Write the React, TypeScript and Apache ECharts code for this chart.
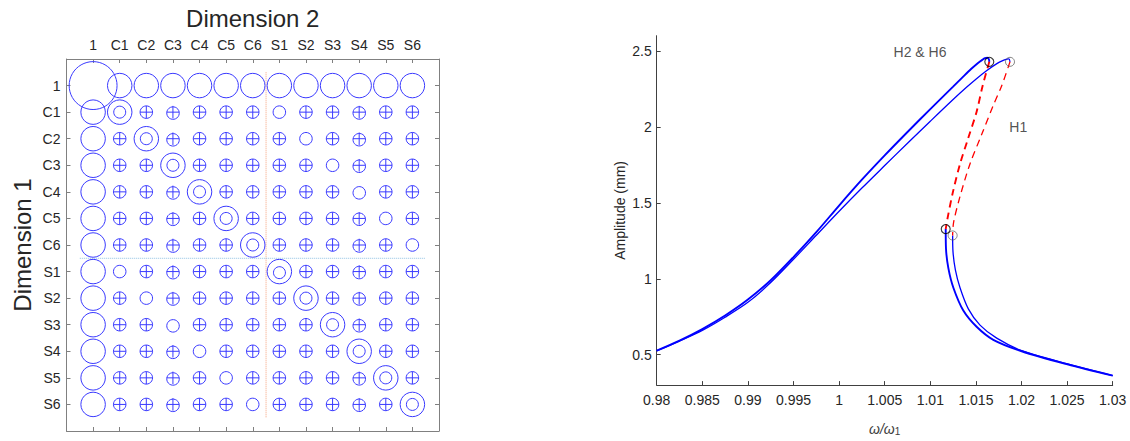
import React, { useEffect, useRef } from 'react';
import * as echarts from 'echarts';

// ---------- Left panel: matrix of circles ----------
const dimLabels = ['1', 'C1', 'C2', 'C3', 'C4', 'C5', 'C6', 'S1', 'S2', 'S3', 'S4', 'S5', 'S6'];
// B = big, L = large, D = double ring, + = crossed circle, o = plain circle
const cellCodes = [
  'BLLLLLLLLLLLL',
  'LD+++++o+++++',
  'L+D+++++o++++',
  'L++D+++++o+++',
  'L+++D+++++o++',
  'L++++D+++++o+',
  'L+++++D+++++o',
  'Lo+++++D+++++',
  'L+o+++++D++++',
  'L++o+++++D+++',
  'L+++o+++++D++',
  'L++++o+++++D+',
  'L+++++o+++++D',
];
const kindOrder = 'BLD+o';
const kindRadius = [0.9, 0.46, 0.46, 0.235, 0.235];
const innerRingRadius = 0.225;
const matrixTicks = [1, 2, 3, 4, 5, 6, 7, 8, 9, 10, 11, 12, 13];
const verticalDivider = [[7.5, 0.5], [7.5, 13.5]];
const horizontalDivider = [[0.5, 7.5], [13.5, 7.5]];

// ---------- Right panel: frequency response ----------
const freqTicks = [0.98, 0.985, 0.99, 0.995, 1, 1.005, 1.01, 1.015, 1.02, 1.025, 1.03];
const ampTicks = [0.5, 1, 1.5, 2, 2.5];

const h26Upper = [
  [0.98, 0.527], [0.9825, 0.593], [0.985, 0.669], [0.9875, 0.758], [0.99, 0.863],
  [0.9925, 0.99], [0.995, 1.143], [0.9975, 1.307], [1.0, 1.482], [1.0025, 1.652],
  [1.005, 1.812], [1.0075, 1.966], [1.01, 2.117], [1.0125, 2.265], [1.0135, 2.324],
  [1.0145, 2.382], [1.0152, 2.419], [1.0157, 2.441], [1.016, 2.452], [1.01625, 2.455],
  [1.01642, 2.446], [1.01647, 2.428],
];
const h26Unstable = [
  [1.01647, 2.428], [1.01574, 2.271], [1.01508, 2.1], [1.01417, 1.928], [1.01326, 1.756],
  [1.01245, 1.563], [1.01187, 1.392], [1.01169, 1.327],
];
const h26Lower = [
  [1.01169, 1.327], [1.01172, 1.199], [1.01198, 1.07], [1.01253, 0.941], [1.01362, 0.791],
  [1.01508, 0.684], [1.01691, 0.598], [1.02002, 0.523], [1.02503, 0.437], [1.03, 0.362],
];
const h1Upper = [
  [0.98, 0.525], [0.9825, 0.59], [0.985, 0.66], [0.9875, 0.747], [0.99, 0.845],
  [0.9925, 0.975], [0.995, 1.128], [0.9975, 1.286], [1.0, 1.444], [1.0025, 1.597],
  [1.005, 1.745], [1.0075, 1.892], [1.01, 2.037], [1.0125, 2.18], [1.014, 2.262],
  [1.015, 2.314], [1.0162, 2.371], [1.0173, 2.416], [1.018, 2.437], [1.0184, 2.446],
  [1.01862, 2.447], [1.01874, 2.428],
];
const h1Unstable = [
  [1.01874, 2.428], [1.01783, 2.271], [1.01691, 2.142], [1.01563, 1.949], [1.01435, 1.756],
  [1.01326, 1.542], [1.01255, 1.37], [1.01245, 1.285],
];
const h1Lower = [
  [1.01245, 1.285], [1.01249, 1.177], [1.01275, 1.059], [1.01326, 0.941], [1.01417, 0.802],
  [1.01545, 0.695], [1.01728, 0.609], [1.02002, 0.527], [1.02503, 0.439], [1.03, 0.362],
];
const h26Folds = [[1.01647, 2.428], [1.01169, 1.327]];
const h1Folds = [[1.01874, 2.428], [1.01245, 1.285]];
const curveNotes = [
  { name: 'H2 & H6', value: [1.00887, 2.492] },
  { name: 'H1', value: [1.01965, 2.0] },
];

const FONT = '"Liberation Sans", Arial, Helvetica, sans-serif';
const TXT = '#262626';

export default function App() {
  const ref = useRef<HTMLDivElement>(null);
  useEffect(() => {
    document.body.style.margin = '0';
    if (!ref.current) return;
    const chart = echarts.init(ref.current, undefined, { renderer: 'svg' });

    const cells: number[][] = [];
    cellCodes.forEach((rowStr, r) => {
      rowStr.split('').forEach((ch, c) => {
        cells.push([c + 1, r + 1, kindOrder.indexOf(ch)]);
      });
    });

    const boxColor = '#808080';
    const ringColor = '#3a3aff';
    const darkAxis = '#404040';

    const matrixAxisCommon = {
      type: 'value',
      min: 0,
      max: 14,
      gridIndex: 0,
      splitLine: { show: false },
      axisLine: { show: true, onZero: false, lineStyle: { color: boxColor, width: 1 } },
      axisTick: { show: true, inside: true, length: 4, customValues: matrixTicks, lineStyle: { color: boxColor } },
    };

    const option: any = {
      animation: false,
      textStyle: { fontFamily: FONT },
      grid: [
        { left: 66.5, top: 59, width: 372.5, height: 372 },
        { left: 656.7, top: 35.7, width: 456, height: 357.3 },
      ],
      xAxis: [
        {
          ...matrixAxisCommon,
          position: 'top',
          axisLabel: {
            customValues: matrixTicks,
            formatter: (v: number) => dimLabels[Math.round(v) - 1] ?? '',
            fontSize: 14,
            color: TXT,
            margin: 7,
          },
          name: 'Dimension 2',
          nameLocation: 'middle',
          nameGap: 29,
          nameTextStyle: { fontSize: 24, color: TXT },
        },
        {
          ...matrixAxisCommon,
          position: 'bottom',
          axisLabel: { show: false },
        },
        {
          type: 'value',
          gridIndex: 1,
          min: 0.98,
          max: 1.03,
          splitLine: { show: false },
          axisLine: { show: true, onZero: false, lineStyle: { color: darkAxis } },
          axisTick: { show: true, inside: true, length: 4, customValues: freqTicks, lineStyle: { color: darkAxis } },
          axisLabel: { customValues: freqTicks, fontSize: 14, color: TXT, margin: 8 },
          name: '{w|ω/ω}{s|1}',
          nameLocation: 'middle',
          nameGap: 28,
          nameTextStyle: {
            color: darkAxis,
            rich: {
              w: { fontSize: 14, fontStyle: 'italic', color: darkAxis, lineHeight: 14, verticalAlign: 'middle' },
              s: { fontSize: 10, color: darkAxis, verticalAlign: 'bottom', lineHeight: 10, padding: [14, 0, 0, 0] },
            },
          },
        },
      ],
      yAxis: [
        {
          ...matrixAxisCommon,
          inverse: true,
          position: 'left',
          axisLabel: {
            customValues: matrixTicks,
            formatter: (v: number) => dimLabels[Math.round(v) - 1] ?? '',
            fontSize: 14,
            color: TXT,
            margin: 6,
          },
          name: 'Dimension 1',
          nameLocation: 'middle',
          nameRotate: 90,
          nameGap: 32,
          nameTextStyle: { fontSize: 24, color: TXT },
        },
        {
          ...matrixAxisCommon,
          inverse: true,
          position: 'right',
          axisLabel: { show: false },
        },
        {
          type: 'value',
          gridIndex: 1,
          min: 0.3,
          max: 2.6,
          splitLine: { show: false },
          axisLine: { show: true, onZero: false, lineStyle: { color: darkAxis } },
          axisTick: { show: true, inside: true, length: 4, customValues: ampTicks, lineStyle: { color: darkAxis } },
          axisLabel: { customValues: ampTicks, fontSize: 14, color: TXT, margin: 5 },
          name: 'Amplitude (mm)',
          nameLocation: 'middle',
          nameRotate: 90,
          nameGap: 30,
          nameTextStyle: { fontSize: 14, color: TXT },
        },
      ],
      series: [
        {
          type: 'line',
          xAxisIndex: 0,
          yAxisIndex: 0,
          data: verticalDivider,
          showSymbol: false,
          silent: true,
          lineStyle: { color: '#f4a07c', width: 1, type: 'dotted' },
          z: 1,
        },
        {
          type: 'line',
          xAxisIndex: 0,
          yAxisIndex: 0,
          data: horizontalDivider,
          showSymbol: false,
          silent: true,
          lineStyle: { color: '#8fc1e3', width: 1, type: 'dotted' },
          z: 1,
        },
        {
          type: 'custom',
          xAxisIndex: 0,
          yAxisIndex: 0,
          clip: false,
          silent: true,
          z: 3,
          encode: { x: 0, y: 1 },
          data: cells,
          renderItem: (params: any, api: any) => {
            const col = api.value(0);
            const row = api.value(1);
            const k = api.value(2);
            const pt = api.coord([col, row]);
            const unit = api.size([1, 1])[0];
            const r = kindRadius[k] * unit;
            const style = { fill: 'none', stroke: ringColor, lineWidth: 1 };
            const children: any[] = [
              { type: 'circle', shape: { cx: pt[0], cy: pt[1], r }, style },
            ];
            if (k === 2) {
              children.push({ type: 'circle', shape: { cx: pt[0], cy: pt[1], r: innerRingRadius * unit }, style });
            }
            if (k === 3) {
              children.push({ type: 'line', shape: { x1: pt[0] - r, y1: pt[1], x2: pt[0] + r, y2: pt[1] }, style: { stroke: ringColor, lineWidth: 1 } });
              children.push({ type: 'line', shape: { x1: pt[0], y1: pt[1] - r, x2: pt[0], y2: pt[1] + r }, style: { stroke: ringColor, lineWidth: 1 } });
            }
            return { type: 'group', children };
          },
        },
        // Right panel
        {
          type: 'line', xAxisIndex: 2, yAxisIndex: 2, data: h1Upper, showSymbol: false, smooth: 0.3,
          lineStyle: { color: '#0000ff', width: 1.3 }, z: 3,
        },
        {
          type: 'line', xAxisIndex: 2, yAxisIndex: 2, data: h1Lower, showSymbol: false, smooth: 0.3,
          lineStyle: { color: '#0000ff', width: 1.3 }, z: 3,
        },
        {
          type: 'line', xAxisIndex: 2, yAxisIndex: 2, data: h1Unstable, showSymbol: false, smooth: 0.3,
          lineStyle: { color: '#ff0000', width: 1.3, type: [7, 5] }, z: 3,
        },
        {
          type: 'line', xAxisIndex: 2, yAxisIndex: 2, data: h26Upper, showSymbol: false, smooth: 0.3,
          lineStyle: { color: '#0000ff', width: 1.9 }, z: 4,
        },
        {
          type: 'line', xAxisIndex: 2, yAxisIndex: 2, data: h26Lower, showSymbol: false, smooth: 0.3,
          lineStyle: { color: '#0000ff', width: 1.9 }, z: 4,
        },
        {
          type: 'line', xAxisIndex: 2, yAxisIndex: 2, data: h26Unstable, showSymbol: false, smooth: 0.3,
          lineStyle: { color: '#ff0000', width: 1.9, type: [7, 5] }, z: 4,
        },
        {
          type: 'scatter', xAxisIndex: 2, yAxisIndex: 2, data: h1Folds, symbol: 'circle', symbolSize: 9,
          itemStyle: { color: 'rgba(0,0,0,0)', borderColor: '#555555', borderWidth: 0.9 }, z: 6, silent: true,
        },
        {
          type: 'scatter', xAxisIndex: 2, yAxisIndex: 2, data: h26Folds, symbol: 'circle', symbolSize: 9,
          itemStyle: { color: 'rgba(0,0,0,0)', borderColor: '#000000', borderWidth: 1.1 }, z: 6, silent: true,
        },
        {
          type: 'scatter', xAxisIndex: 2, yAxisIndex: 2, data: curveNotes, symbol: 'circle', symbolSize: 1,
          itemStyle: { color: 'rgba(0,0,0,0)' }, silent: true, z: 7,
          label: { show: true, position: 'inside', formatter: (p: any) => p.name, fontSize: 14, color: TXT },
        },
      ],
    };

    chart.setOption(option);
    return () => chart.dispose();
  }, []);

  return <div ref={ref} style={{ width: 1130, height: 441 }} />;
}
